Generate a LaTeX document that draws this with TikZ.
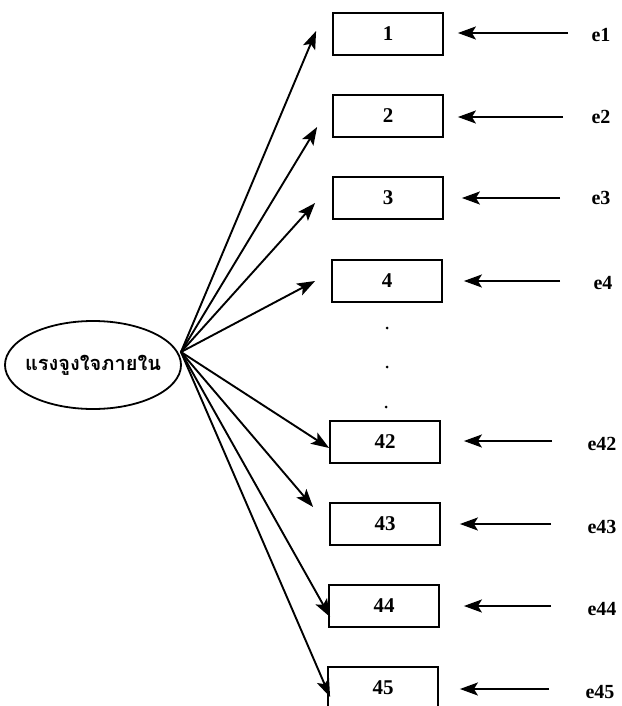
\documentclass[tikz,border=0pt]{standalone}
\usepackage{fontspec}
\setmainfont{Liberation Serif}
\newfontfamily\thaifont[Script=Thai]{Loma}
\usetikzlibrary{shapes.geometric,arrows.meta,calc}
\begin{document}
\begin{tikzpicture}[x=1pt,y=-1pt,
  obs/.style={draw,line width=1.8pt,minimum width=110pt,minimum height=42pt,inner sep=0pt,font=\bfseries\fontsize{21}{21}\selectfont},
  lat/.style={draw,ellipse,line width=1.8pt,minimum width=176pt,minimum height=88pt,inner xsep=-16pt,inner ysep=0pt,font=\thaifont\bfseries\fontsize{20}{20}\selectfont},
  err/.style={font=\bfseries\fontsize{20}{20}\selectfont,anchor=west},
  arr/.style={line width=1.9pt,-{Stealth[length=18pt,width=13pt,inset=4pt]}},
  dotn/.style={circle,fill,inner sep=0pt,minimum size=3pt}]
\useasboundingbox (0,0) rectangle (621,706);
\node[lat] (L) at (93,365) {แรงจูงใจภายใน};
\coordinate (src) at (181,352);
% observed boxes
\node[obs] (b1) at (388,34) {1};
\node[obs] (b2) at (388,116) {2};
\node[obs] (b3) at (388,198) {3};
\node[obs] (b4) at (387,281) {4};
\node[obs] (b42) at (385,442) {42};
\node[obs] (b43) at (385,524) {43};
\node[obs] (b44) at (384,606) {44};
\node[obs] (b45) at (383,688) {45};
% dots
\node[dotn] (d1) at (387,328) {};
\node[dotn] (d2) at (387,367) {};
\node[dotn] (d3) at (386,407) {};
% error labels
\node[err] (e1) at (588,35) {e1};
\node[err] (e2) at (588,117) {e2};
\node[err] (e3) at (588,198) {e3};
\node[err] (e4) at (590,283) {e4};
\node[err] (e42) at (584,444) {e42};
\node[err] (e43) at (584,527) {e43};
\node[err] (e44) at (584,609) {e44};
\node[err] (e45) at (582,692) {e45};
% error arrows (horizontal)
\draw[arr] ($(e1.west)+(-20,-2)$) -- ($(e1.west -| b1.east)+(14,-2)$);
\draw[arr] ($(e2.west)+(-25,0)$) -- ($(e2.west -| b2.east)+(14,0)$);
\draw[arr] ($(e3.west)+(-28,0)$) -- ($(e3.west -| b3.east)+(18,0)$);
\draw[arr] ($(e4.west)+(-30,-2)$) -- ($(e4.west -| b4.east)+(21,-2)$);
\draw[arr] ($(e42.west)+(-32,-3)$) -- ($(e42.west -| b42.east)+(23,-3)$);
\draw[arr] ($(e43.west)+(-33,-3)$) -- ($(e43.west -| b43.east)+(19,-3)$);
\draw[arr] ($(e44.west)+(-33,-3)$) -- ($(e44.west -| b44.east)+(24,-3)$);
\draw[arr] ($(e45.west)+(-33,-3)$) -- ($(e45.west -| b45.east)+(21,-3)$);
% loading arrows
\draw[arr] (src) -- ($(b1.west)+(-16,-3)$);
\draw[arr] (src) -- ($(b2.west)+(-15,11)$);
\draw[arr] (src) -- ($(b3.west)+(-17,5)$);
\draw[arr] (src) -- ($(b4.west)+(-16,0)$);
\draw[arr] (src) -- ($(b42.west)+(0,6)$);
\draw[arr] (src) -- ($(b43.west)+(-16,-17)$);
\draw[arr] (src) -- ($(b44.west)+(2,11)$);
\draw[arr] (src) -- ($(b45.west)+(3,9)$);
\end{tikzpicture}
\end{document}
